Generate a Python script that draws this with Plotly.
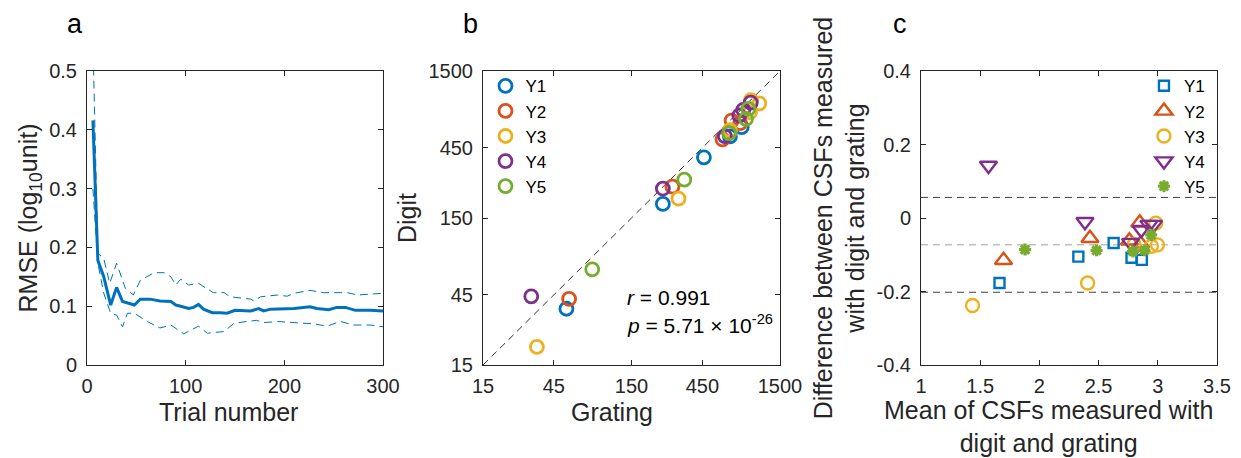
import plotly.graph_objects as go

# ---------------- data ----------------
# panel a
trial = [6, 11, 17, 24, 30, 36, 48, 54, 64, 74, 85, 90, 95, 103, 108, 113, 118, 127, 135, 142,
         150, 166, 174, 179, 186, 199, 210, 226, 233, 245, 253, 262, 272, 287, 300]
rmse_mean = [0.416, 0.178, 0.150, 0.102, 0.132, 0.108, 0.102, 0.112, 0.112, 0.109, 0.108, 0.102,
             0.100, 0.096, 0.098, 0.103, 0.095, 0.089, 0.089, 0.088, 0.093, 0.092, 0.096, 0.092,
             0.095, 0.096, 0.096, 0.099, 0.096, 0.094, 0.098, 0.098, 0.093, 0.093, 0.092]
upper_x = [6, 11, 17, 23, 30, 39, 47, 54, 68, 78, 85, 90, 95, 103, 113, 122, 128, 139, 145, 166,
           169, 176, 193, 203, 210, 226, 240, 257, 264, 274, 300]
upper_y = [0.55, 0.190, 0.181, 0.139, 0.173, 0.130, 0.119, 0.144, 0.157, 0.157, 0.150, 0.136,
           0.146, 0.136, 0.139, 0.130, 0.123, 0.123, 0.116, 0.112, 0.109, 0.116, 0.119, 0.117,
           0.122, 0.127, 0.123, 0.123, 0.123, 0.119, 0.122]
lower_x = [6, 11, 17, 24, 30, 36, 41, 48, 61, 74, 85, 98, 113, 122, 139, 149, 162, 172, 179, 193,
           210, 230, 243, 257, 270, 287, 300]
lower_y = [0.30, 0.173, 0.122, 0.088, 0.085, 0.065, 0.088, 0.088, 0.074, 0.063, 0.068, 0.053,
           0.066, 0.054, 0.057, 0.071, 0.074, 0.076, 0.072, 0.074, 0.072, 0.070, 0.066, 0.074,
           0.068, 0.068, 0.065]

groups = ["Y1", "Y2", "Y3", "Y4", "Y5"]
colors = ["#0072BD", "#D95319", "#EDB120", "#7E2F8E", "#77AC30"]

# panel b (grating vs digit)
grating = {
    "Y1": [54.7, 244, 461, 690, 828],
    "Y2": [57, 283, 615, 708, 808],
    "Y3": [34.6, 311, 690, 942, 956, 1089],
    "Y4": [31.7, 244, 638, 798, 849, 953],
    "Y5": [81.6, 340, 682, 885, 918],
}
digit = {
    "Y1": [36.2, 187, 388, 538, 622],
    "Y2": [42.2, 245, 514, 690, 662],
    "Y3": [19.9, 203, 594, 786, 951, 904],
    "Y4": [44, 238, 541, 747, 815, 914],
    "Y5": [67.1, 274, 567, 708, 828],
}
b_ticks = [15, 45, 150, 450, 1500]

# panel c (Bland-Altman)
ba_mean = {
    "Y1": [1.663, 2.329, 2.627, 2.778, 2.865],
    "Y2": [1.697, 2.427, 2.760, 2.848, 2.855],
    "Y3": [1.435, 2.407, 2.800, 2.946, 2.983, 2.997],
    "Y4": [1.570, 2.385, 2.770, 2.860, 2.925, 2.965],
    "Y5": [1.879, 2.483, 2.790, 2.888, 2.944],
}
ba_diff = {
    "Y1": [-0.177, -0.105, -0.068, -0.108, -0.114],
    "Y2": [-0.115, -0.055, -0.062, -0.013, -0.070],
    "Y3": [-0.238, -0.177, -0.072, -0.077, -0.014, -0.073],
    "Y4": [0.143, -0.010, -0.067, -0.032, -0.018, -0.018],
    "Y5": [-0.086, -0.088, -0.091, -0.088, -0.046],
}
ba_lines = [0.056, -0.073, -0.202]
ba_line_colors = ["#404040", "#a0a0a0", "#404040"]
c_symbols = ["square-open", "triangle-up-open", "circle-open", "triangle-down-open", "asterisk-open"]
c_sizes = [10, 15, 13, 15, 10]

# ---------------- figure ----------------
FONT = "Liberation Sans, Arial, sans-serif"
TICK = 20
TITLE = 25
AX = "#262626"

fig = go.Figure()

# panel a
fig.add_trace(go.Scatter(x=upper_x, y=upper_y, mode="lines", line=dict(color="#0072BD", width=1, dash="8px,5px"),
                         showlegend=False, xaxis="x", yaxis="y"))
fig.add_trace(go.Scatter(x=lower_x, y=lower_y, mode="lines", line=dict(color="#0072BD", width=1, dash="8px,5px"),
                         showlegend=False, xaxis="x", yaxis="y"))
fig.add_trace(go.Scatter(x=trial, y=rmse_mean, mode="lines", line=dict(color="#0072BD", width=3),
                         showlegend=False, xaxis="x", yaxis="y"))

# panel b
fig.add_trace(go.Scatter(x=[b_ticks[0], b_ticks[-1]], y=[b_ticks[0], b_ticks[-1]], mode="lines",
                         line=dict(color="#333333", width=1, dash="7px,5px"), showlegend=False,
                         xaxis="x2", yaxis="y2"))
for g, c in zip(groups, colors):
    fig.add_trace(go.Scatter(x=grating[g], y=digit[g], mode="markers", name=g,
                             marker=dict(symbol="circle-open", size=13, color=c, line=dict(width=2.8)),
                             legend="legend", xaxis="x2", yaxis="y2"))

# panel c
for v, lc in zip(ba_lines, ba_line_colors):
    fig.add_trace(go.Scatter(x=[1, 3.5], y=[v, v], mode="lines", line=dict(color=lc, width=1, dash="7px,5px"),
                             showlegend=False, xaxis="x3", yaxis="y3"))
for g, c, s, sz in zip(groups, colors, c_symbols, c_sizes):
    fig.add_trace(go.Scatter(x=ba_mean[g], y=ba_diff[g], mode="markers", name=g,
                             marker=dict(symbol=s, size=sz, color=c,
                                         line=dict(width=3.2 if s.startswith("asterisk") else 2.4, color=c)),
                             legend="legend2", xaxis="x3", yaxis="y3"))

def axis(domain, anchor, is_x, **kw):
    d = dict(domain=domain, anchor=anchor, showline=True, linecolor=AX, linewidth=1, mirror="ticks",
             ticks="inside", ticklen=5, tickcolor=AX, showgrid=False, zeroline=False, automargin=False,
             ticklabelstandoff=3 if is_x else 5,
             tickfont=dict(family=FONT, size=TICK, color=AX))
    d.update(kw)
    return d

ydom = [1 - 365 / 458, 1 - 71 / 458]
xa = [87 / 1241, 383 / 1241]
xb = [483 / 1241, 780 / 1241]
xc = [921 / 1241, 1217 / 1241]

fig.update_layout(
    width=1241, height=458, margin=dict(l=0, r=0, t=0, b=0, autoexpand=False),
    paper_bgcolor="white", plot_bgcolor="white",
    font=dict(family=FONT, color=AX),
    xaxis=axis(xa, "y", True, range=[0, 300], tickvals=[0, 100, 200, 300]),
    yaxis=axis(ydom, "x", False, range=[0, 0.5], tickvals=[0, 0.1, 0.2, 0.3, 0.4, 0.5],
               ticktext=["0", "0.1", "0.2", "0.3", "0.4", "0.5"],
               title=dict(text="RMSE (log<sub>10</sub>unit)", font=dict(size=TITLE, color=AX), standoff=4)),
    xaxis2=axis(xb, "y2", True, type="log", range=[1.17609, 3.17609], tickvals=b_ticks,
                ticktext=[str(t) for t in b_ticks]),
    yaxis2=axis(ydom, "x2", False, type="log", range=[1.17609, 3.17609], tickvals=b_ticks,
                ticktext=[str(t) for t in b_ticks],
                title=dict(text="Digit", font=dict(size=TITLE, color=AX), standoff=4)),
    xaxis3=axis(xc, "y3", True, range=[1, 3.5], tickvals=[1, 1.5, 2, 2.5, 3, 3.5],
                ticktext=["1", "1.5", "2", "2.5", "3", "3.5"]),
    yaxis3=axis(ydom, "x3", False, range=[-0.4, 0.4], tickvals=[-0.4, -0.2, 0, 0.2, 0.4],
                ticktext=["-0.4", "-0.2", "0", "0.2", "0.4"],
                title=dict(text="Difference between CSFs measured<br>with digit and grating", font=dict(size=TITLE, color=AX), standoff=4)),
    legend=dict(x=xb[0] + 0.002, y=ydom[1] + 0.006, xanchor="left", yanchor="top", bgcolor="rgba(0,0,0,0)",
                font=dict(family=FONT, size=17, color="black"), itemwidth=30, tracegroupgap=0),
    legend2=dict(x=xc[1] + 0.004 - 12 / 1241, y=ydom[1] + 0.006, xanchor="right", yanchor="top", bgcolor="rgba(0,0,0,0)",
                 font=dict(family=FONT, size=17, color="black"), itemwidth=30, tracegroupgap=0),
)

# x-axis titles (placed as in the reference)
xtitles = [("Trial number", 228, 412), ("Grating", 612, 412),
           ("Mean of CSFs measured with<br>digit and grating", 1048, 426)]
for txt, px, py in xtitles:
    fig.add_annotation(x=px / 1241, y=1 - py / 458, xref="paper", yref="paper", xanchor="center", yanchor="middle",
                       text=txt, showarrow=False, font=dict(family=FONT, size=TITLE, color=AX))

# annotation in b
fig.add_annotation(x=625 / 1241, y=1 - 297 / 458, xref="paper", yref="paper", xanchor="left", yanchor="middle",
                   text="<i>r</i> = 0.991", showarrow=False, font=dict(family=FONT, size=21, color="black"))
fig.add_annotation(x=625 / 1241, y=1 - 324 / 458, xref="paper", yref="paper", xanchor="left", yanchor="middle",
                   text="<i>p</i> = 5.71 × 10<sup>-26</sup>", showarrow=False, font=dict(family=FONT, size=21, color="black"))

# panel labels
for lab, px in zip(["a", "b", "c"], [75, 470, 900]):
    fig.add_annotation(x=px / 1241, y=1 - 24 / 458, xref="paper", yref="paper", xanchor="center", yanchor="middle",
                       text=lab, showarrow=False, font=dict(family=FONT, size=27, color="black"))

fig.write_html("out.html")
